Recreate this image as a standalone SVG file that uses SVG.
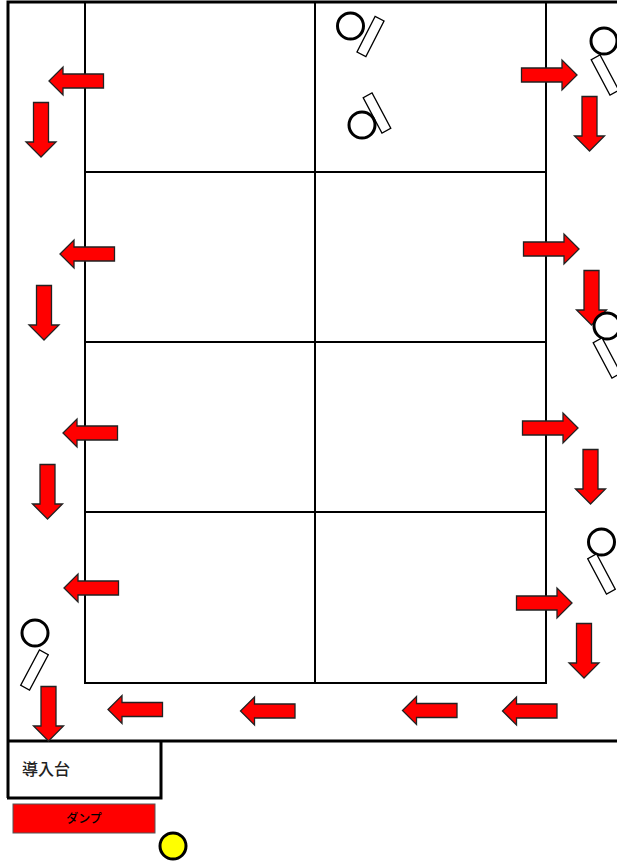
<svg xmlns="http://www.w3.org/2000/svg" width="617" height="865" viewBox="0 0 617 865">
<style>
.w{fill:none;stroke:#000;stroke-width:3}
.g{fill:none;stroke:#000;stroke-width:2}
.a{fill:#f00;stroke:#222;stroke-width:1.300}
.c{fill:#fff;stroke:#000;stroke-width:3}
.r{fill:#fff;stroke:#000;stroke-width:1.300}
text{font-family:"Noto Sans CJK JP","Liberation Sans",sans-serif;fill:#222}
</style>
<defs>
<path id="L" class="a" d="M0,0L14,-14V-7H54.500V7H14V14Z"/>
<path id="D" class="a" d="M0,0L-15,-15H-7.500V-54.500H7.500V-15H15Z"/>
<path id="R" class="a" d="M0,0L-15,-15V-7H-55.500V7H-15V15Z"/>
<rect id="B" class="r" x="-5" y="-20" width="10" height="40"/>
</defs>
<rect width="617" height="865" fill="#fff"/>
<g id="walls">
<path class="w" d="M617,2H8V798"/>
<path class="w" d="M7,741H617"/>
<path class="w" d="M161,741V798H7"/>
</g>
<g id="grid">
<path class="g" d="M85,3V684M315,3V684M546,3V684M85,172H546M85,342H546M85,512H546M85,683H546"/>
</g>
<g id="connectors">
<use href="#L" x="49" y="81"/><use href="#L" x="60" y="254"/><use href="#L" x="63" y="433"/><use href="#L" x="64" y="588"/>
<use href="#L" x="108" y="709.500"/><use href="#L" x="240.500" y="711"/><use href="#L" x="402.500" y="710.500"/><use href="#L" x="502.500" y="711"/>
<use href="#D" x="41" y="157"/><use href="#D" x="44" y="340"/><use href="#D" x="47.500" y="519"/><use href="#D" x="48.500" y="741"/>
<use href="#D" x="589.500" y="151"/><use href="#D" x="591.500" y="325"/><use href="#D" x="590.500" y="504"/><use href="#D" x="584" y="678"/>
<use href="#R" x="577" y="75"/><use href="#R" x="579" y="249"/><use href="#R" x="578" y="428"/><use href="#R" x="572" y="603"/>
</g>
<g id="worker1"><circle class="c" cx="350.500" cy="26" r="13"/><use href="#B" transform="translate(370.500 36.500) rotate(27)"/></g>
<g id="worker2"><use href="#B" transform="translate(377 113) rotate(-28)"/><circle class="c" cx="362" cy="125" r="13"/></g>
<g id="worker3"><circle class="c" cx="604" cy="41" r="13"/><use href="#B" transform="translate(605 75) rotate(-28)"/></g>
<g id="worker4"><circle class="c" cx="607" cy="326" r="13"/><use href="#B" transform="translate(607 358) rotate(-28)"/></g>
<g id="worker5"><circle class="c" cx="601.500" cy="542" r="13"/><use href="#B" transform="translate(601.500 574) rotate(-28)"/></g>
<g id="worker6"><circle class="c" cx="35" cy="633" r="13"/><use href="#B" transform="translate(34.500 670) rotate(28)"/></g>
<g id="dump"><rect x="13" y="804" width="142" height="29" fill="#f00" stroke="#555" stroke-width="1"/><text x="84" y="823" font-size="12" font-weight="500" text-anchor="middle" style="fill:#000">ダンプ</text></g>
<g id="platform"><text x="22" y="775" font-size="16" font-weight="500">導入台</text></g>
<g id="marker"><circle cx="173" cy="846" r="13" fill="#ff0" stroke="#000" stroke-width="3"/></g>
</svg>
